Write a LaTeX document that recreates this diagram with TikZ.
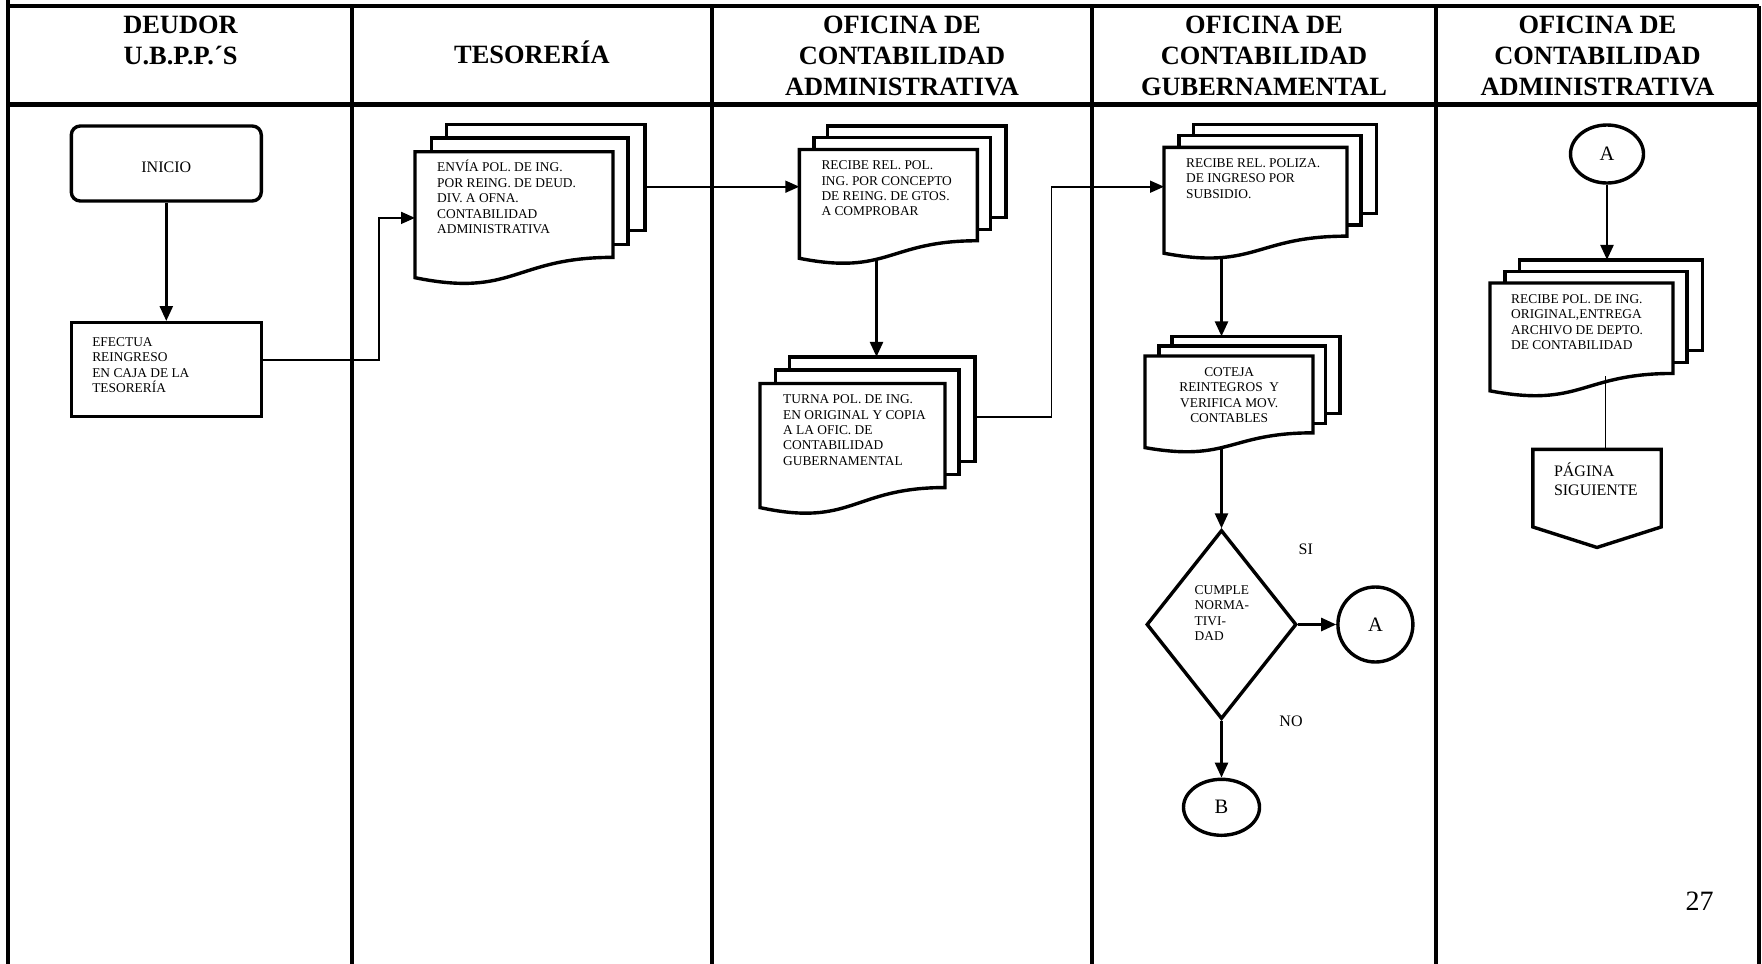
\documentclass[tikz,border=0pt]{standalone}
\usepackage{fontspec}
\setmainfont{Liberation Serif}
\usetikzlibrary{arrows.meta,shapes.geometric,calc}
\pgfdeclarelayer{bg}
\pgfsetlayers{bg,main}

\newcommand{\docfont}{\fontsize{13.4pt}{15.4pt}\selectfont}
\newcommand{\midfont}{\fontsize{16pt}{19pt}\selectfont}
\newcommand{\letterfont}{\fontsize{20.5pt}{24pt}\selectfont}
\newcommand{\numfont}{\fontsize{28pt}{32pt}\selectfont}
\newcommand{\headfont}{\fontsize{26.4pt}{31pt}\selectfont\bfseries}

\tikzset{
  frame/.style={line width=4.5pt},
  shapeline/.style={draw, line width=3.4pt},
  flow/.style={line width=2.6pt, -{Triangle[length=15pt,width=13pt]}},
  link/.style={line width=1.6pt, -{Triangle[length=14pt,width=12pt]}},
  head/.style={font=\headfont, align=center, inner sep=0pt},
}

% three stacked sheets, #1 name, #2 top left of the front sheet, #3 width, #4 height
\newcommand{\multidoc}[6]{%
  \begin{scope}[shift={#2}]
    \draw[shapeline,fill=white] ({0.1598*#3},{-0.205*#4}) rectangle ({1.1616*#3},{0.598*#4});
    \draw[shapeline,fill=white] ({0.0824*#3},{-0.1038*#4}) rectangle ({1.0756*#3},{0.7017*#4});
    \draw[shapeline,fill=white] (0,0) -- (#3,0) -- (#3,{0.8004*#4})
      .. controls ({0.5*#3},{0.8004*#4}) and ({0.5*#3},{1.1083*#4}) .. (0,{0.9544*#4}) -- cycle;
    \coordinate (#1-b) at ({0.1598*#3},{-0.205*#4});
    \coordinate (#1-r) at ({1.1616*#3},0);
    \node[inner sep=0pt, anchor=north west] (#1) at (0,0)
      {\parbox[b][#4pt][t]{#3pt}{\docfont#5\rule{0pt}{20pt}#6}};
  \end{scope}}

\begin{document}
\begin{tikzpicture}[x=1pt,y=-1pt]
\useasboundingbox (0,0) rectangle (1762,964);

\begin{pgfonlayer}{bg}
  \draw[frame] (8,0) -- (8,964);
  \draw[frame] (8,6) -- (1759,6);
  \draw[frame] (8,104.5) -- (1759,104.5);
  \foreach \x in {352,712,1092,1436,1759}
    \draw[frame] (\x,6) -- (\x,964);
\end{pgfonlayer}

\node[head] (h1) at (180.5,40.3) {DEUDOR\\U.B.P.P.´S};
\node[head] (h2) at (532,52.6) {TESORERÍA};
\node[head] (h3) at (902,55.7) {OFICINA DE\\CONTABILIDAD\\ADMINISTRATIVA};
\node[head] (h4) at (1264,55.7) {OFICINA DE\\CONTABILIDAD\\GUBERNAMENTAL};
\node[head] (h5) at (1597.5,55.7) {OFICINA DE\\CONTABILIDAD\\ADMINISTRATIVA};

\node[shapeline, rounded corners=9pt, minimum width=190pt, minimum height=75pt, text height=19pt, font=\midfont] (inicio) at (166.3,163.5) {INICIO};
\node[shapeline, inner sep=0pt] (efectua) at (166.3,369.7)
  {\parbox[b][94pt][t]{190pt}{\docfont\raggedright\leftskip=21pt\relax\rule{0pt}{23.5pt}EFECTUA\\REINGRESO\\EN CAJA DE LA\\TESORERÍA}};

\multidoc{envia}{(415,151.7)}{198}{132}{\raggedright\leftskip=22pt\relax}
  {ENVÍA POL. DE ING.\\POR REING. DE DEUD.\\DIV. A OFNA.\\CONTABILIDAD\\ADMINISTRATIVA}
\multidoc{recibe}{(799.3,149.5)}{178}{114}{\raggedright\leftskip=22pt\relax}
  {RECIBE REL. POL.\\ING. POR CONCEPTO\\DE REING. DE GTOS.\\A COMPROBAR}
\multidoc{turna}{(760,383.5)}{185}{130}{\raggedright\leftskip=23pt\relax}
  {TURNA POL. DE ING.\\EN ORIGINAL Y COPIA\\A LA OFIC. DE\\CONTABILIDAD\\GUBERNAMENTAL}
\multidoc{poliza}{(1164,147.3)}{183}{111}{\raggedright\leftskip=22pt\relax}
  {RECIBE REL. POLIZA.\\DE INGRESO POR\\SUBSIDIO.}
\multidoc{coteja}{(1145,356)}{168}{96}{\centering}
  {COTEJA\\REINTEGROS\ \ Y\\VERIFICA MOV.\\CONTABLES}
\multidoc{archivo}{(1490,283)}{183}{113}{\raggedright\leftskip=21pt\relax}
  {RECIBE POL. DE ING.\\ORIGINAL,ENTREGA\\ARCHIVO DE DEPTO.\\DE CONTABILIDAD}

\node[shapeline, diamond, minimum width=150pt, minimum height=189pt, inner sep=0pt] (cumple) at (1221.5,624.5) {};
\node[font=\docfont, align=left, inner sep=0pt, anchor=north west] (cumple-t)
  at ([xshift=-27pt,yshift=39pt]cumple.center) {CUMPLE\\NORMA-\\TIVI-\\DAD};
\node[shapeline, circle, minimum size=75pt, inner sep=0pt, font=\letterfont] (conA) at (1375.4,624.5) {A};
\node[shapeline, ellipse, minimum width=76pt, minimum height=56pt, inner sep=0pt, font=\letterfont] (conB) at (1221.5,807.3) {B};
\node[font=\midfont, inner sep=0pt] (si) at (1305.8,549.5) {SI};
\node[font=\midfont, inner sep=0pt] (no) at (1291,721.4) {NO};

\node[shapeline, ellipse, minimum width=73pt, minimum height=58pt, inner sep=0pt, font=\letterfont] (conA2) at (1607,154) {A};
\node[inner sep=0pt] (pagina) at (1597,498.4)
  {\parbox[b][97.7pt][t]{128pt}{\midfont\raggedright\leftskip=21pt\relax\rule{0pt}{26.5pt}PÁGINA\\SIGUIENTE}};
\draw[shapeline] (pagina.north west) -- (pagina.north east) -- ([yshift=20.5pt]pagina.south east)
  -- (pagina.south) -- ([yshift=20.5pt]pagina.south west) -- cycle;
\coordinate (out6) at ([xshift=24pt,yshift=20pt]archivo.south);
\draw[line width=1.2pt] (out6) -- (out6 |- pagina.north);

\node[font=\numfont, inner sep=0pt] (pagnum) at (1699.5,901) {27};

\begin{pgfonlayer}{bg}
  \draw[flow] (inicio) -- (efectua);
  \draw[link] ([yshift=10pt]efectua.east) -- ++(116,0) |- (envia.west);
  \coordinate (in2) at ([yshift=20pt]recibe.west);
  \draw[link] (envia-r |- in2) -- (in2);
  \coordinate (out2) at ([xshift=-12pt]recibe.south);
  \draw[flow] ([yshift=12pt]out2) -- (out2 |- turna-b);
  \coordinate (out3) at ([yshift=31.6pt]turna.east);
  \coordinate (in4) at ([yshift=16.3pt]poliza.west);
  \draw[link] (turna-r |- out3) -- ++(76.5,0) |- (in4);
  \coordinate (out4) at (cumple.north |- poliza.south);
  \draw[flow] ([yshift=12pt]out4) -- (out4 |- coteja-b);
  \coordinate (out5) at (cumple.north |- coteja.south);
  \draw[flow] ([yshift=12pt]out5) -- (cumple.north);
  \draw[flow] (cumple.east) -- (conA.west);
  \draw[flow] (cumple.south) -- (conB.north);
  \draw[flow] (conA2.south) -- (conA2.south |- archivo-b);
\end{pgfonlayer}
\end{tikzpicture}
\end{document}
